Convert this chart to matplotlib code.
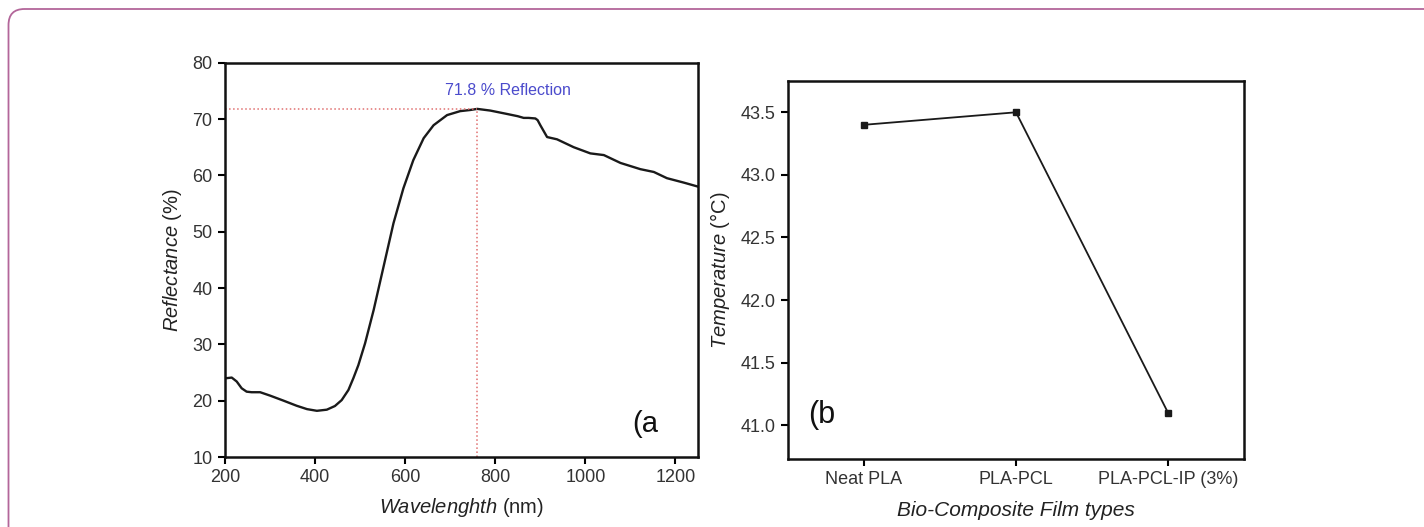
import numpy as np
import matplotlib
matplotlib.use("Agg")
import matplotlib.pyplot as plt
from matplotlib.patches import FancyBboxPatch
from matplotlib.transforms import IdentityTransform

plt.rcParams["font.family"] = ["Liberation Sans", "DejaVu Sans"]
plt.rcParams["mathtext.fontset"] = "custom"
plt.rcParams["mathtext.rm"] = "Liberation Sans"
plt.rcParams["mathtext.it"] = "Liberation Sans:italic"

# panel (a): reflectance spectrum
wavelength = [204, 215, 226, 237, 248, 259, 278, 300, 330, 359, 382, 404, 426,
              444, 459, 474, 485, 496, 511, 530, 552, 574, 596, 618, 641, 663,
              693, 722, 744, 760, 789, 826, 850, 863, 874, 889, 894, 900, 915,
              937, 974, 1011, 1041, 1078, 1122, 1152, 1181, 1219, 1250]
reflectance = [24.0, 24.1, 23.4, 22.2, 21.6, 21.5, 21.5, 20.9, 20.0, 19.1, 18.5,
               18.2, 18.4, 19.05, 20.1, 21.9, 24.0, 26.3, 30.2, 36.1, 43.8,
               51.5, 57.7, 62.7, 66.6, 68.9, 70.7, 71.4, 71.6, 71.8, 71.5, 70.9,
               70.5, 70.2, 70.2, 70.1, 69.8, 68.9, 66.8, 66.4, 65.0, 63.9, 63.6,
               62.2, 61.1, 60.6, 59.5, 58.7, 58.0]
peak_x = 760
peak_y = 71.8

# panel (b): temperature per film type
films = ["Neat PLA", "PLA-PCL", "PLA-PCL-IP (3%)"]
temps = [43.4, 43.5, 41.1]

W, H = 1424, 527
fig = plt.figure(figsize=(W / 100, H / 100), dpi=100)
fig.patch.set_facecolor("white")

border = FancyBboxPatch((8.5, -60), 1600, H - 9 + 60,
                        boxstyle="round,pad=0,rounding_size=16",
                        transform=IdentityTransform(), fill=False,
                        edgecolor="#b3669a", linewidth=1.3)
fig.patches.append(border)

tick_col = "#333333"

# ---- (a)
ax1 = fig.add_axes([225 / W, 1 - 457 / H, (698 - 225) / W, (457 - 62.7) / H])
ax1.plot(wavelength, reflectance, color="#1a1a1a", lw=1.7,
         solid_joinstyle="round")
ax1.plot([200, peak_x], [peak_y, peak_y], ls=":", color="#e07070", lw=1.1)
ax1.plot([peak_x, peak_x], [10, peak_y], ls=":", color="#e07070", lw=1.1)
ax1.text(827, 75.0, "71.8 % Reflection", color="#4b4bcc", fontsize=11.5,
         ha="center", va="center")
ax1.text(1105, 15.8, "(a", fontsize=21, ha="left", va="center", color="#111111")
ax1.set_xlim(200, 1250)
ax1.set_ylim(10, 80)
ax1.set_xticks([200, 400, 600, 800, 1000, 1200])
ax1.set_yticks([10, 20, 30, 40, 50, 60, 70, 80])
ax1.set_xlabel(r"$\it{Wavelenghth}$ (nm)", fontsize=14.5, color="#222222",
               labelpad=7)
ax1.set_ylabel(r"$\it{Reflectance}$ (%)", fontsize=14.5, color="#222222",
               labelpad=6)

# ---- (b)
ax2 = fig.add_axes([788 / W, 1 - 459 / H, (1244 - 788) / W, (459 - 81) / H])
xs = np.arange(len(films))
ax2.plot(xs, temps, color="#1a1a1a", lw=1.3, marker="s", markersize=5)
ax2.text(-0.37, 41.08, "(b", fontsize=22, ha="left", va="center", color="#111111")
ax2.set_xlim(-0.5, 2.5)
ax2.set_ylim(40.73, 43.75)
ax2.set_xticks(xs)
ax2.set_xticklabels(films)
ax2.set_yticks([41.0, 41.5, 42.0, 42.5, 43.0, 43.5])
ax2.set_yticklabels(["41.0", "41.5", "42.0", "42.5", "43.0", "43.5"])
ax2.set_xlabel("Bio-Composite Film types", fontsize=15, color="#222222",
               style="italic", labelpad=9)
ax2.set_ylabel(r"$\it{Temperature}$ (°C)", fontsize=14.5, color="#222222",
               labelpad=6)

for ax in (ax1, ax2):
    for s in ax.spines.values():
        s.set_linewidth(1.8)
        s.set_color("#111111")
    ax.tick_params(direction="out", length=5, width=1.5, labelsize=13,
                   labelcolor=tick_col, pad=4, top=False, right=False)

fig.savefig("out.png", dpi=100)
